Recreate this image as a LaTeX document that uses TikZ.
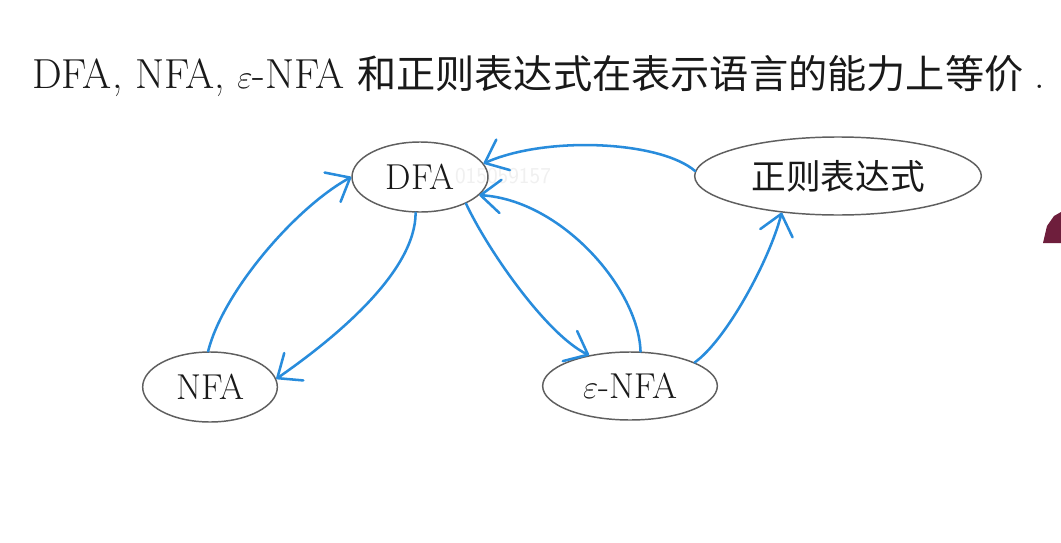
\documentclass[tikz,border=0pt]{standalone}
\usepackage{fontspec}
\newfontfamily\cjk{Noto Sans CJK SC}
\usetikzlibrary{shapes.geometric,arrows.meta}
\definecolor{pen}{RGB}{40,140,220}
\definecolor{ring}{RGB}{95,95,95}
\definecolor{blob}{RGB}{110,30,60}
\tikzset{
  state/.style={ellipse, draw=ring, line width=1.1pt, inner sep=0pt, text=black!90,
    font=\fontsize{27}{32}\selectfont},
  ink/.style={draw=pen, line width=1.9pt, line cap=round, line join=round,
    -{Straight Barb[length=15pt,width=25pt,round]}},
}
\begin{document}
\begin{tikzpicture}[x=0.75pt,y=-0.75pt]
\useasboundingbox (0,0) rectangle (1061,543);
\fill[white] (0,0) rectangle (1061,543);

\node[anchor=base west, inner sep=0pt, text=black!90] (title) at (32,88)
  {\fontsize{31.5}{36}\selectfont DFA, NFA, $\varepsilon$-NFA {\cjk\fontsize{29.4}{36}\selectfont 和正则表达式在表示语言的能力上等价}\hspace{8pt}.};

\node[text=black!6, font=\fontsize{17}{20}\selectfont\sffamily] (wm) at (503,176) {015059157};

\node[state, minimum width=102pt, minimum height=52.5pt] (dfa) at (420,177) {DFA};
\node[state, minimum width=215pt, minimum height=58.5pt] (re) at (838,176)
  {{\cjk\fontsize{26}{30}\selectfont 正则表达式}};
\node[state, minimum width=101pt, minimum height=52.5pt] (nfa) at (210,387) {NFA};
\node[state, minimum width=131pt, minimum height=51pt] (enfa) at (630,386) {$\varepsilon$-NFA};

\draw[ink] (nfa.93) .. controls +(15,-60) and +(-55,30) .. (dfa.180);
\draw[ink] (dfa.263) .. controls +(0,58) and +(62,-43) .. (nfa.7);
\draw[ink] (re.178) .. controls +(-35,-30) and +(63,-28) .. (dfa.12);
\draw[ink] (enfa.73) .. controls +(-2,-63) and +(82,5) .. (dfa.-17);
\draw[ink] (dfa.-30) .. controls +(22,47) and +(-42,-20) .. (enfa.143);
\draw[ink] (enfa.20) .. controls +(32,-23) and +(-12,47) .. (re.-147);

\fill[blob] (1043,243) -- (1047,226) -- (1054,216) -- (1061,212) -- (1061,243) -- cycle;
\end{tikzpicture}
\end{document}
